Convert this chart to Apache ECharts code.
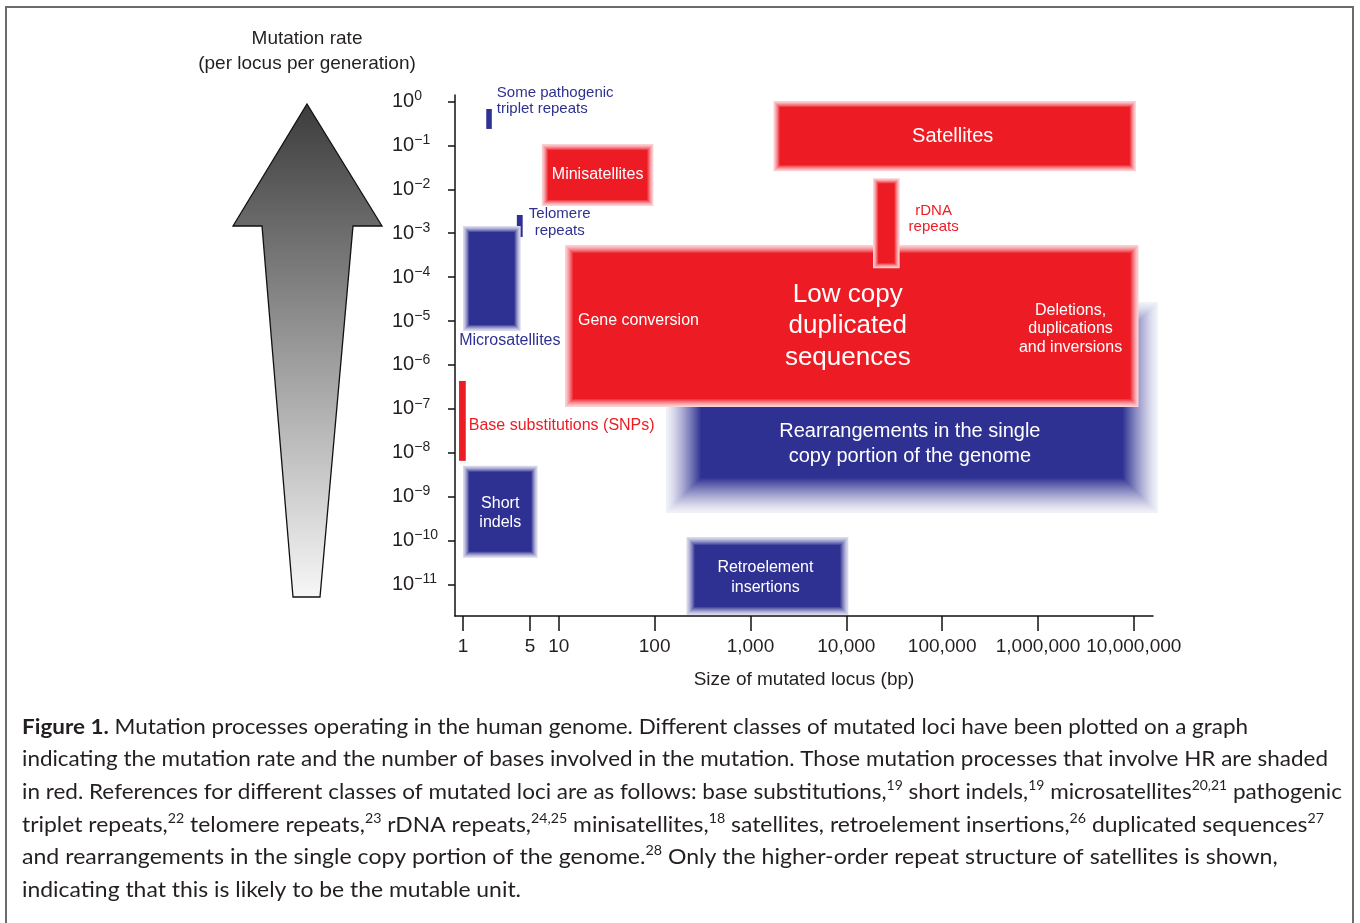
<!DOCTYPE html>
<html><head><meta charset="utf-8">
<script src="https://cdn.jsdelivr.net/npm/echarts@6/dist/echarts.min.js"></script>
<style>html,body{margin:0;padding:0;background:#fff}#c{width:1360px;height:923px}</style>
</head><body><div id="c"></div>
<script>
// ---------------- DATA ----------------
const boxNames = [
  'Some pathogenic\ntriplet repeats',
  'Telomere\nrepeats',
  'Microsatellites',
  'Minisatellites',
  'Satellites',
  'Rearrangements in the single\ncopy portion of the genome',
  'Low copy\nduplicated\nsequences',
  'rDNA\nrepeats',
  'Retroelement\ninsertions',
  'Short\nindels',
  'Base substitutions (SNPs)'
];
// size of mutated locus (bp): from / to
const sizeFrom = [1.75, 3.65, 1.0, 6.65, 1740, 131, 11.6, 19000, 215, 1.0, 0.91];
const sizeTo   = [2.0, 4.2, 4.0, 97, 1.05e7, 1.78e7, 1.12e7, 36000, 10500, 6.0, 1.07];
// mutation rate (per locus per generation): high / low
const rateHigh = [0.678, 2.6e-3, 1.46e-3, 0.108, 1.03, 2.7e-5, 5.4e-4, 0.018, 1.2e-10, 5e-9, 4.3e-7];
const rateLow  = [0.238, 8.2e-4, 5.9e-6, 4.2e-3, 0.026, 4.2e-10, 1.1e-7, 1.6e-4, 2e-12, 4e-11, 6.5e-9];
// involves homologous recombination (shaded red)
const involvesHR = [false, false, false, true, true, false, true, true, false, false, true];
const lowCopySubLabels = ['Gene conversion', 'Deletions,\nduplications\nand inversions'];

const xTickValues = [1, 5, 10, 100, 1000, 10000, 100000, 1000000, 10000000];
const xTickLabels = ['1', '5', '10', '100', '1,000', '10,000', '100,000', '1,000,000', '10,000,000'];
const yTickExponents = [0, -1, -2, -3, -4, -5, -6, -7, -8, -9, -10, -11];

const yTitle = 'Mutation rate\n(per locus per generation)';
const xTitle = 'Size of mutated locus (bp)';
const captionLines = [
  '{b|Figure 1.} Mutation processes operating in the human genome. Different classes of mutated loci have been plotted on a graph',
  'indicating the mutation rate and the number of bases involved in the mutation. Those mutation processes that involve HR are shaded',
  'in red. References for different classes of mutated loci are as follows: base substitutions,{s|19} short indels,{s|19} microsatellites{s|20,21} pathogenic',
  'triplet repeats,{s|22} telomere repeats,{s|23} rDNA repeats,{s|24,25} minisatellites,{s|18} satellites, retroelement insertions,{s|26} duplicated sequences{s|27}',
  'and rearrangements in the single copy portion of the genome.{s|28} Only the higher-order repeat structure of satellites is shown,',
  'indicating that this is likely to be the mutable unit.'
];

// ---------------- STYLE ----------------
const FONT = 'Liberation Sans, Arial, sans-serif';
const TXT = '#231F20';
const BLUE = '#2E3192', RED = '#ED1C24';
const PALE_BLUE = '#D9D9EC', PALE_RED = '#FBD0D5';
const glowPx = [0, 0, 6, 6, 6, 35, 8, 5, 8, 6, 0];
const paleOverride = {5: '#F1F1F8'};
const labelCfg = [
  {anchor: 'rightTop', dx: 5, dy: -8, align: 'left', color: BLUE, size: 15, lh: 16},
  {anchor: 'rightTop', dx: 37, dy: 7.5, align: 'center', color: BLUE, size: 15, lh: 17},
  {anchor: 'bottomCenter', dx: 18, dy: 10, align: 'center', color: BLUE, size: 16, lh: 18},
  {anchor: 'center', dx: 0, dy: 0, align: 'center', color: '#fff', size: 16, lh: 18},
  {anchor: 'center', dx: -2, dy: 0, align: 'center', color: '#fff', size: 20, lh: 22},
  {anchor: 'center', dx: -2, dy: 36, align: 'center', color: '#fff', size: 20, lh: 25},
  {anchor: 'center', dx: -4, dy: 0, align: 'center', color: '#fff', size: 26, lh: 31.5},
  {anchor: 'rightMiddle', dx: 34, dy: -4.5, align: 'center', color: RED, size: 15, lh: 16},
  {anchor: 'center', dx: -2, dy: 2, align: 'center', color: '#fff', size: 16, lh: 20},
  {anchor: 'center', dx: 0, dy: 1.5, align: 'center', color: '#fff', size: 16, lh: 19},
  {anchor: 'rightMiddle', dx: 3, dy: 5, align: 'left', color: RED, size: 16, lh: 18}
];

function hex2rgb(h) { h = h.replace('#', ''); return [0, 2, 4].map(i => parseInt(h.substr(i, 2), 16)); }
function mix(a, b, t) {
  const A = hex2rgb(a), B = hex2rgb(b);
  return 'rgb(' + A.map((v, i) => Math.round(v + (B[i] - v) * t)).join(',') + ')';
}

const boxData = boxNames.map((n, i) => [sizeFrom[i], sizeTo[i], rateHigh[i], rateLow[i]]);

function textEl(text, x, y, color, size, lh, align) {
  return {
    type: 'text', z2: 100,
    style: {
      text: text, x: x, y: y, fill: color,
      fontSize: size, fontFamily: FONT, lineHeight: lh,
      align: align, textAlign: align, verticalAlign: 'middle', textVerticalAlign: 'middle'
    }
  };
}

function renderBox(params, api) {
  const i = params.dataIndex;
  const p0 = api.coord([api.value(0), api.value(2)]);
  const p1 = api.coord([api.value(1), api.value(3)]);
  const x = Math.min(p0[0], p1[0]), y = Math.min(p0[1], p1[1]);
  const w = Math.abs(p1[0] - p0[0]), h = Math.abs(p1[1] - p0[1]);
  const core = involvesHR[i] ? RED : BLUE;
  const pale = paleOverride[i] || (involvesHR[i] ? PALE_RED : PALE_BLUE);
  const g = glowPx[i];
  const children = [];
  if (g === 0) {
    children.push({type: 'rect', shape: {x: x, y: y, width: w, height: h}, style: {fill: core}});
  } else {
    for (let k = 0; k <= g; k++) {
      const t = Math.pow(k / g, 1.3);
      children.push({
        type: 'rect',
        shape: {x: x + k, y: y + k, width: Math.max(w - 2 * k, 0), height: Math.max(h - 2 * k, 0)},
        style: {fill: k === g ? core : mix(pale, core, t)}
      });
    }
  }
  const c = labelCfg[i];
  let ax, ay;
  if (c.anchor === 'center') { ax = x + w / 2; ay = y + h / 2; }
  else if (c.anchor === 'rightTop') { ax = x + w; ay = y; }
  else if (c.anchor === 'rightMiddle') { ax = x + w; ay = y + h / 2; }
  else if (c.anchor === 'bottomCenter') { ax = x + w / 2; ay = y + h; }
  children.push(textEl(boxNames[i], ax + c.dx, ay + c.dy, c.color, c.size, c.lh, c.align));
  if (i === 6) {
    children.push(textEl(lowCopySubLabels[0], x + 13, y + h / 2 - 5, '#fff', 16, 18, 'left'));
    children.push(textEl(lowCopySubLabels[1], x + w - 68, y + h / 2 + 3, '#fff', 16, 18.5, 'center'));
  }
  return {type: 'group', children: children};
}

// caption: Lato stretched horizontally per line to fit the reference line lengths
const CAPFONT = 'Lato';
const capSize = 21, supRatio = 0.62;
const capEnds = [1248, 1328, 1342, 1324, 1297, 521];
const capLeft = 22, capY0 = 727, capStep = 32.6;
const mctx = document.createElement('canvas').getContext('2d');
function measureRich(str) {
  let w = 0, m;
  const re = /\{(\w)\|([^}]*)\}|([^{]+)/g;
  while ((m = re.exec(str))) {
    if (m[3]) { mctx.font = capSize + 'px ' + CAPFONT; w += mctx.measureText(m[3]).width; }
    else if (m[1] === 'b') { mctx.font = 'bold ' + capSize + 'px ' + CAPFONT; w += mctx.measureText(m[2]).width; }
    else { mctx.font = (capSize * supRatio) + 'px ' + CAPFONT; w += mctx.measureText(m[2]).width; }
  }
  return w;
}

const graphics = [
  {type: 'rect', z: -10, shape: {x: 6, y: 7, width: 1347, height: 940},
   style: {fill: 'none', stroke: '#6b6b6b', lineWidth: 2}},
  {type: 'polygon', z: 1,
   shape: {points: [[307, 104], [382, 226], [353, 226], [320, 597], [293, 597], [262, 226], [233, 226]]},
   style: {
     fill: new echarts.graphic.LinearGradient(0, 0, 0, 1, [
       {offset: 0, color: '#3c3c3c'}, {offset: 1, color: '#f7f7f7'}]),
     stroke: '#111', lineWidth: 1.3
   }},
  {type: 'text', z: 5,
   style: {text: yTitle, x: 307, y: 51, fill: TXT, fontSize: 19, fontFamily: FONT, lineHeight: 25,
           align: 'center', textAlign: 'center', verticalAlign: 'middle', textVerticalAlign: 'middle'}}
];
captionLines.forEach((ln, k) => {
  const natural = measureRich(ln);
  const sx = natural > 0 ? Math.min(1.1, Math.max(0.8, (capEnds[k] - capLeft) / natural)) : 1;
  graphics.push({
    type: 'text', z: 5,
    x: capLeft, y: capY0 + k * capStep, scaleX: sx,
    style: {
      text: ln, x: 0, y: 0, fill: TXT,
      fontSize: capSize, fontFamily: CAPFONT, lineHeight: capSize * 1.2,
      align: 'left', textAlign: 'left', verticalAlign: 'middle', textVerticalAlign: 'middle',
      rich: {
        b: {fontSize: capSize, fontFamily: CAPFONT, fontWeight: 'bold', fill: TXT, lineHeight: capSize * 1.2},
        s: {fontSize: capSize * supRatio, fontFamily: CAPFONT, fill: TXT, lineHeight: capSize * 0.75, verticalAlign: 'top'}
      }
    }
  });
});

const yTickValues = yTickExponents.map(e => Math.pow(10, e));
const chart = echarts.init(document.getElementById('c'), null, {renderer: 'canvas'});
chart.setOption({
  animation: false,
  backgroundColor: '#fff',
  grid: {left: 455, right: 207, top: 95, bottom: 307, containLabel: false},
  xAxis: {
    type: 'log', logBase: 10,
    min: Math.pow(10, -0.083), max: Math.pow(10, 7.2),
    name: xTitle, nameLocation: 'middle', nameGap: 54,
    nameTextStyle: {color: TXT, fontSize: 19, fontFamily: FONT},
    axisLine: {show: true, onZero: false, lineStyle: {color: '#111', width: 1.5}},
    axisTick: {show: true, length: 15, customValues: xTickValues, lineStyle: {color: '#111', width: 1.5}},
    axisLabel: {
      show: true, margin: 21, color: TXT, fontSize: 19, fontFamily: FONT,
      customValues: xTickValues,
      formatter: function (v) {
        const idx = xTickValues.findIndex(t => Math.abs(Math.log10(t) - Math.log10(v)) < 1e-6);
        return idx >= 0 ? xTickLabels[idx] : '';
      }
    },
    splitLine: {show: false}
  },
  yAxis: {
    type: 'log', logBase: 10,
    min: Math.pow(10, -11.723), max: Math.pow(10, 0.15),
    axisLine: {show: true, onZero: false, lineStyle: {color: '#111', width: 1.5}},
    axisTick: {show: true, length: 7, customValues: yTickValues, lineStyle: {color: '#111', width: 1.5}},
    axisLabel: {
      show: true, margin: 63, align: 'left', color: TXT, fontFamily: FONT, fontSize: 20,
      customValues: yTickValues,
      formatter: function (v) {
        const e = Math.round(Math.log10(v));
        return '{a|10}{s|' + (e === 0 ? '0' : '\u2212' + (-e)) + '}';
      },
      rich: {
        a: {fontSize: 20, fontFamily: FONT, color: TXT, lineHeight: 24},
        s: {fontSize: 14, fontFamily: FONT, color: TXT, lineHeight: 13, verticalAlign: 'top'}
      }
    },
    splitLine: {show: false}
  },
  series: [{
    type: 'custom',
    name: 'Mutation classes',
    coordinateSystem: 'cartesian2d',
    clip: false,
    renderItem: renderBox,
    dimensions: ['sizeFrom', 'sizeTo', 'rateHigh', 'rateLow'],
    encode: {x: [0, 1], y: [2, 3]},
    data: boxData,
    z: 2
  }],
  graphic: graphics
});
</script>
</body></html>
